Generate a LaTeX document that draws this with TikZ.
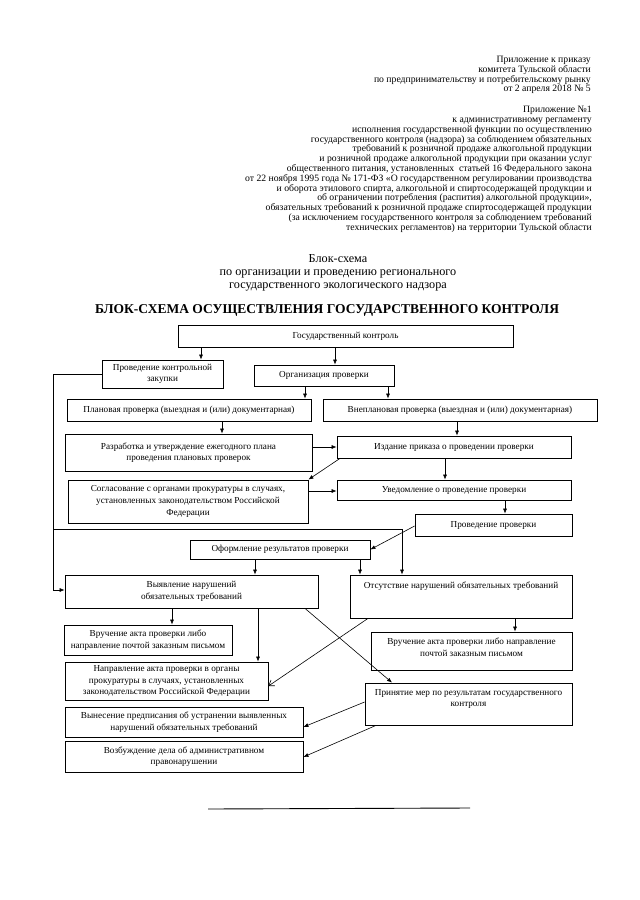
\documentclass[tikz,border=0pt]{standalone}
\usepackage{fontspec}
\setmainfont{Liberation Serif}
\usetikzlibrary{arrows.meta,fit,calc}
\begin{document}
\begin{tikzpicture}[x=1pt,y=-1pt,
  box/.style={draw, line width=0.8pt, inner sep=0pt, rectangle},
  txt/.style={font=\fontsize{9.2}{11.6}\selectfont, align=center, inner sep=0pt},
  hdr/.style={font=\fontsize{9.7}{9.8}\selectfont, align=right, inner sep=0pt, anchor=north east},
  ttl/.style={font=\fontsize{12.2}{12.8}\selectfont, align=center, inner sep=0pt},
  arr/.style={-{Latex[length=5pt,width=4pt]}, line width=0.6pt},
  oarr/.style={-{Straight Barb[length=5pt,width=7pt]}, line width=0.6pt},
  ln/.style={line width=0.6pt}]
\fill[white] (0,0) rectangle (640,900);
\useasboundingbox (0,0) rectangle (640,900);

% header
\node[hdr] (h1) at (591,56) {Приложение к приказу\\комитета Тульской области\\по предпринимательству и потребительскому рынку\\от 2 апреля 2018 № 5};
\node[hdr] (h2) at (592,106) {Приложение №1\\к административному регламенту\\исполнения государственной функции по осуществлению\\государственного контроля (надзора) за соблюдением обязательных\\требований к розничной продаже алкогольной продукции\\и розничной продаже алкогольной продукции при оказании услуг\\общественного питания, установленных~ статьей 16 Федерального закона\\от 22 ноября 1995 года № 171-ФЗ «О государственном регулировании производства\\и оборота этилового спирта, алкогольной и спиртосодержащей продукции и\\об ограничении потребления (распития) алкогольной продукции»,\\обязательных требований к розничной продаже спиртосодержащей продукции\\(за исключением государственного контроля за соблюдением требований\\технических регламентов) на территории Тульской области};

% titles
\node[ttl] (t1) at (338,273) {Блок-схема\\по организации и проведению регионального\\государственного экологического надзора};
\node[ttl, font=\fontsize{13.5}{14}\selectfont\bfseries] (t2) at (327,310) {БЛОК-СХЕМА ОСУЩЕСТВЛЕНИЯ ГОСУДАРСТВЕННОГО КОНТРОЛЯ};

% boxes
\node[box, fit={(178,325) (513,347)}] (gk) {};
\node[box, fit={(102,360) (223,388)}] (zak) {};
\node[box, fit={(254,365) (394,386)}] (org) {};
\node[box, fit={(67,399) (311,421)}] (plan) {};
\node[box, fit={(323,399) (597,421)}] (vnep) {};
\node[box, fit={(65,434) (312,471)}] (razr) {};
\node[box, fit={(337,436) (571,458)}] (izd) {};
\node[box, fit={(68,480) (308,523)}] (sogl) {};
\node[box, fit={(337,480) (571,500)}] (uved) {};
\node[box, fit={(415,514) (572,536)}] (prov) {};
\node[box, fit={(190,540) (370,559)}] (oform) {};
\node[box, fit={(65,575) (318,608)}] (vyav) {};
\node[box, fit={(350,575) (572,618)}] (otsut) {};
\node[box, fit={(64,625) (232,655)}] (vruch1) {};
\node[box, fit={(371,632) (572,670)}] (vruch2) {};
\node[box, fit={(65,662) (268,700)}] (napr) {};
\node[box, fit={(365,683) (572,725)}] (prin) {};
\node[box, fit={(65,707) (303,737)}] (vynes) {};
\node[box, fit={(65,741) (303,772)}] (vozb) {};

% texts
\node[txt] (gkT) at (gk.center) {Государственный контроль};
\node[txt] (zakT) at (zak.center) {Проведение контрольной\\закупки};
\node[txt] (orgT) at (org.center) {Организация проверки};
\node[txt] (planT) at (plan.center) {Плановая проверка (выездная и (или) документарная)};
\node[txt] (vnepT) at (vnep.center) {Внеплановая проверка (выездная и (или) документарная)};
\node[txt] (razrT) at (razr.center) {Разработка и утверждение ежегодного плана\\проведения плановых проверок};
\node[txt] (izdT) at (izd.center) {Издание приказа о проведении проверки};
\node[txt] (soglT) at (sogl.center) {Согласование с органами прокуратуры в случаях,\\установленных законодательством Российской\\Федерации};
\node[txt] (uvedT) at (uved.center) {Уведомление о проведение проверки};
\node[txt] (provT) at (prov.center) {Проведение проверки};
\node[txt] (oformT) at (oform.center) {Оформление результатов проверки};
\node[txt] (vyavT) at (vyav.center) {Выявление нарушений\\обязательных требований};
\node[txt] (otsutT) at (otsut.center |- 0,586) {Отсутствие нарушений обязательных требований};
\node[txt] (vruch1T) at (vruch1.center) {Вручение акта проверки либо\\направление почтой заказным письмом};
\node[txt] (vruch2T) at (vruch2.center |- 0,647) {Вручение акта проверки либо направление\\почтой заказным письмом};
\node[txt] (naprT) at (napr.center) {Направление акта проверки в органы\\прокуратуры в случаях, установленных\\законодательством Российской Федерации};
\node[txt] (prinT) at (prin.center |- 0,699) {Принятие мер по результатам государственного\\контроля};
\node[txt] (vynesT) at (vynes.center) {Вынесение предписания об устранении выявленных\\нарушений обязательных требований};
\node[txt] (vozbT) at (vozb.center) {Возбуждение дела об административном\\правонарушении};

% connectors
\draw[arr] (201,0 |- gk.south) -- (201,0 |- zak.north);
\draw[arr] (335,0 |- gk.south) -- (335,0 |- org.north);
\draw[arr] (305,0 |- org.south) -- (305,0 |- plan.north);
\draw[arr] (388,0 |- org.south) -- (388,0 |- vnep.north);
\draw[arr] (222,0 |- plan.south) -- (222,0 |- razr.north);
\draw[arr] (457,0 |- vnep.south) -- (457,0 |- izd.north);
\draw[arr] (razr.east |- 0,447) -- (izd.west |- 0,447);
\draw[arr] (340,0 |- izd.south) -- (sogl.north east);
\draw[arr] (445,0 |- izd.south) -- (445,0 |- uved.north);
\draw[arr] (sogl.east |- 0,491) -- (uved.west |- 0,491);
\draw[arr] (505,0 |- uved.south) -- (505,0 |- prov.north);
\draw[arr] (prov.west |- 0,526) -- (oform.east);
\draw[arr] (255,0 |- oform.south) -- (255,0 |- vyav.north);
\draw[arr] (360,0 |- oform.south) -- (360,0 |- otsut.north);
\coordinate (lt) at (53,374);
\coordinate (lb) at (53,590);
\coordinate (lm) at (53,529);
\coordinate (rm) at (402,529);
\draw[arr] (zak.west |- lt) -- (lt) -- (lb) -- (vyav.west |- lb);
\draw[arr] (lm) -- (rm) -- (rm |- otsut.north);
\draw[arr] (172,0 |- vyav.south) -- (172,0 |- vruch1.north);
\draw[arr] (258,0 |- vyav.south) -- (258,0 |- napr.north);
\draw[arr] (305,0 |- vyav.south) -- (392,0 |- prin.north);
\draw[oarr] (368,0 |- otsut.south) -- (napr.east |- 0,686);
\draw[arr] (515,0 |- otsut.south) -- (515,0 |- vruch2.north);
\draw[arr] (prin.west |- 0,702) -- (vynes.east |- 0,727);
\draw[arr] (376,0 |- prin.south) -- (vozb.east |- 0,757);

% bottom rule
\coordinate (r1) at (208,809);
\coordinate (r2) at (470,808);
\draw[line width=0.9pt] (r1) -- (r2);
\end{tikzpicture}
\end{document}
